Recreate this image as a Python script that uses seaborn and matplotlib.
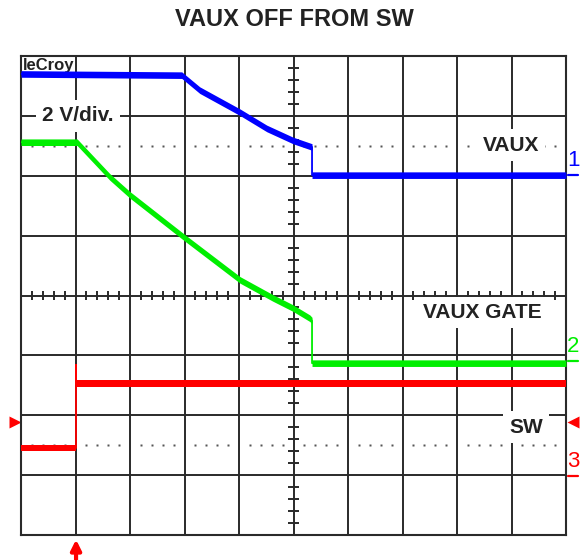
import numpy as np
import pandas as pd
import seaborn as sns
import matplotlib.pyplot as plt

# scope traces, in divisions (x: 0-10, y: 0-8 from bottom)
vaux_x = [0, 2.95, 3.28, 4.02, 4.51, 4.99, 5.34, 5.34, 10]
vaux_y = [7.70, 7.68, 7.43, 7.06, 6.79, 6.59, 6.48, 6.01, 6.01]

gate_x = [0, 1.03, 1.63, 2.0, 3.01, 4.02, 4.62, 4.99, 5.30, 5.34, 5.34, 10]
gate_y = [6.56, 6.56, 5.98, 5.68, 4.96, 4.26, 3.96, 3.79, 3.62, 3.58, 2.87, 2.87]

sw_x = [0, 1.01, 1.01, 1.01, 10]
sw_y = [1.45, 1.45, 2.84, 2.53, 2.53]

trace_names = ['VAUX', 'VAUX GATE', 'SW']
trace_colors = ['#0000ff', '#00ee00', '#ff0000']
channel_marks = ['1', '2', '3']
ground_levels = [6.01, 2.90, 0.98]

sns.set_style('white')
plt.rcParams['font.family'] = ['Liberation Sans', 'DejaVu Sans']

fig = plt.figure(figsize=(5.8, 5.6), dpi=100)
ax = fig.add_axes([21 / 580, 25 / 560, 545 / 580, 479 / 560])

# graticule
grid_col = '#2a2a2a'
for i in range(1, 10):
    ax.axvline(i, color=grid_col, lw=1.4, zorder=1)
for j in range(1, 8):
    ax.axhline(j, color=grid_col, lw=1.4, zorder=1)

minor_x = np.array([v for v in np.arange(0.2, 10, 0.2) if abs(v - round(v)) > 0.01])
minor_y = np.array([v for v in np.arange(0.2, 8, 0.2) if abs(v - round(v)) > 0.01])
ax.vlines(minor_x, 4 - 0.08, 4 + 0.08, color=grid_col, lw=1.4, zorder=1)
ax.hlines(minor_y, 5 - 0.11, 5 + 0.11, color=grid_col, lw=1.4, zorder=1)
for yd in [6.5, 1.5]:
    ax.plot(minor_x, np.full(len(minor_x), yd), 's', ms=1.6, color='#555555',
            mec='none', zorder=1)

ax.text(0.03, 7.97, 'leCroy', fontsize=12, fontweight='bold', ha='left', va='top',
        family=['Liberation Sans Narrow', 'Liberation Sans'], color='#222222', zorder=3)

# traces
traces = [(vaux_x, vaux_y), (gate_x, gate_y), (sw_x, sw_y)]
for (tx, ty), name, col in zip(traces, trace_names, trace_colors):
    ty = np.array(ty)
    ax.fill_between(tx, ty - 0.055, ty + 0.055, color=col, lw=0, zorder=4)
    df = pd.DataFrame({'x': tx, 'y': ty})
    sns.lineplot(data=df, x='x', y='y', color=col, lw=1.3, estimator=None,
                 sort=False, ax=ax, zorder=4)

# channel markers on the right
for mark, lvl, col in zip(channel_marks, ground_levels, trace_colors):
    ax.text(10.13, lvl + 0.25, mark, color=col, fontsize=16, ha='center',
            va='center', clip_on=False)
    ax.plot([10.04, 10.22], [lvl, lvl], color=col, lw=1.6, clip_on=False)

ax.plot([-0.11], [1.89], marker='>', color='#ff0000', ms=8, mec='none', clip_on=False)
ax.plot([10.12], [1.89], marker='<', color='#ff0000', ms=8, mec='none', clip_on=False)
ax.annotate('', xy=(1.01, -0.03), xytext=(1.01, -0.5),
            arrowprops=dict(arrowstyle='-|>', color='#ff0000', lw=3, mutation_scale=15),
            annotation_clip=False)

box = dict(boxstyle='square,pad=0.3', fc='white', ec='none')
lab_kw = dict(fontsize=15, fontweight='bold', color='#222222', ha='center',
              va='center', bbox=box, zorder=5)
ax.text(1.04, 7.0, '2 V/div.', **lab_kw)
ax.text(8.99, 6.51, 'VAUX', **lab_kw)
ax.text(8.46, 3.72, 'VAUX GATE', **lab_kw)
ax.text(9.27, 1.80, 'SW', **lab_kw)

ax.set_xlim(0, 10)
ax.set_ylim(0, 8)
ax.set_xticks([])
ax.set_yticks([])
ax.set_xlabel('')
ax.set_ylabel('')
for s in ax.spines.values():
    s.set_color(grid_col)
    s.set_linewidth(1.5)

fig.text(0.507, 1 - 19 / 560, 'VAUX OFF FROM SW', fontsize=17, fontweight='bold',
         ha='center', va='center', color='#222222')

plt.savefig('out.png', dpi=100)
